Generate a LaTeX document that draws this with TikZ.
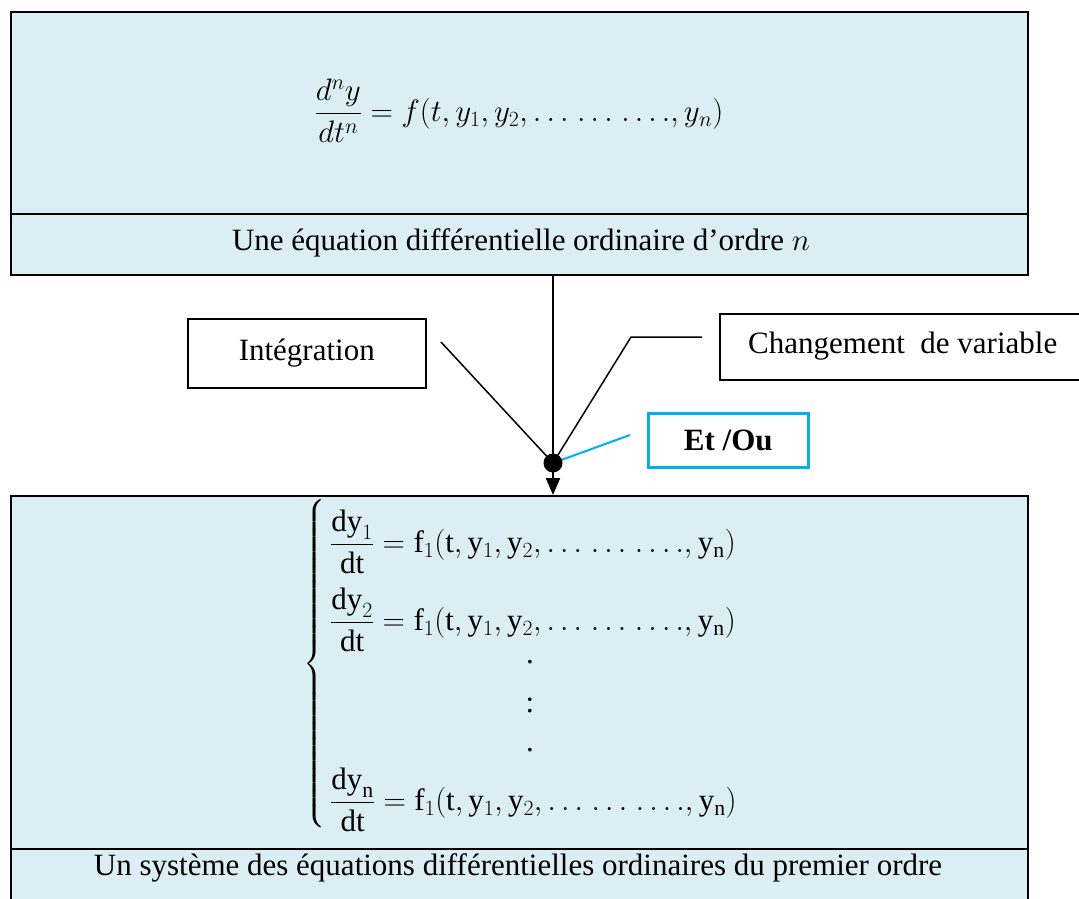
\RequirePackage{fix-cm}
\documentclass[tikz,border=0pt]{standalone}
\usepackage{amsmath}
\usepackage{fontspec}
\setmainfont{Liberation Serif}
\usetikzlibrary{arrows.meta}
\definecolor{boxfill}{RGB}{219,238,243}
\definecolor{cyanline}{RGB}{0,176,240}
\newcommand{\elld}{\ldots\mkern2mu\ldots\mkern2mu\ldots.}
\begin{document}
\begin{tikzpicture}[x=1pt,y=-1pt,
  every node/.style={font=\fontsize{31}{37}\selectfont},
  bluebox/.style={draw=black, line width=2pt, fill=boxfill, anchor=north west, inner sep=0pt},
  whitebox/.style={draw=black, line width=1.5pt, fill=white, anchor=north west, inner sep=0pt},
  cyanbox/.style={draw=cyanline, line width=2.5pt, fill=white, anchor=north west, inner sep=0pt},
  conn/.style={draw=black, line width=1.5pt},
  mainline/.style={draw=black, line width=2.2pt},
  cyanconn/.style={draw=cyanline, line width=2pt},
  eqtext/.style={anchor=west, inner sep=0pt},
  lbl/.style={inner sep=0pt}
]
\useasboundingbox (0,0) rectangle (1079,898);

% top box
\node[bluebox, minimum width=1017pt, minimum height=202pt] (topeq) at (10,11) {};
\node[bluebox, minimum width=1017pt, minimum height=61pt] (topcap) at (10,213) {};
\node[lbl] (eqtop) at (519,111) {$\displaystyle \frac{d^n y}{dt^n} = f(t, y_1, y_2, \elld, y_n)$};
\node[lbl] (captop) at (521,243) {Une équation différentielle ordinaire d’ordre $n$};

% bottom box
\node[bluebox, minimum width=1017pt, minimum height=353pt] (boteq) at (10,495) {};
\node[bluebox, minimum width=1017pt, minimum height=70pt] (botcap) at (10,848) {};
\node[lbl] (capbot) at (518,868) {Un système des équations différentielles ordinaires du premier ordre};

\node[lbl, anchor=east] (brace) at (327,664) {$\left\{\vrule height 156pt depth 156pt width 0pt\right.$};
\node[eqtext] (eq1) at (330,542) {$\displaystyle \frac{\mathrm{dy}_1}{\mathrm{dt}} = \mathrm{f}_1(\mathrm{t}, \mathrm{y}_1, \mathrm{y}_2, \elld, \mathrm{y}_\mathrm{n})$};
\node[eqtext] (eq2) at (330,620) {$\displaystyle \frac{\mathrm{dy}_2}{\mathrm{dt}} = \mathrm{f}_1(\mathrm{t}, \mathrm{y}_1, \mathrm{y}_2, \elld, \mathrm{y}_\mathrm{n})$};
\node[lbl] (d1) at (530,662) {.};
\node[lbl] (d2) at (530,705) {:};
\node[lbl] (d3) at (530,750) {.};
\node[eqtext] (eqn) at (330,800) {$\displaystyle \frac{\mathrm{dy}_\mathrm{n}}{\mathrm{dt}} = \mathrm{f}_1(\mathrm{t}, \mathrm{y}_1, \mathrm{y}_2, \elld, \mathrm{y}_\mathrm{n})$};

% side boxes
\node[whitebox, minimum width=238pt, minimum height=69pt] (integ) at (187,318) {};
\node[lbl] at (integ.center) {Intégration};
\node[whitebox, minimum width=380pt, minimum height=66pt] (chg) at (719,313) {};
\node[lbl, anchor=west] at (748,346) {Changement\ \ de variable};
\node[cyanbox, minimum width=160pt, minimum height=54pt] (etou) at (647,412) {};
\node[lbl] at (etou.center) {\textbf{Et /Ou}};

% junction
\coordinate (dot) at (553,463);
\coordinate (ia) at (441,342);
\coordinate (ca) at (702,337);
\coordinate (cb) at (631,337);
\coordinate (ea) at (630,435);

\draw[mainline, -{Triangle[length=17pt,width=14pt]}] (dot |- topcap.south) -- (dot |- boteq.north);
\draw[conn] (ia) -- (dot);
\draw[conn] (ca) -- (cb) -- (dot);
\draw[cyanconn] (ea) -- (dot);
\fill[black] (dot) circle (9.5pt);
\end{tikzpicture}
\end{document}
